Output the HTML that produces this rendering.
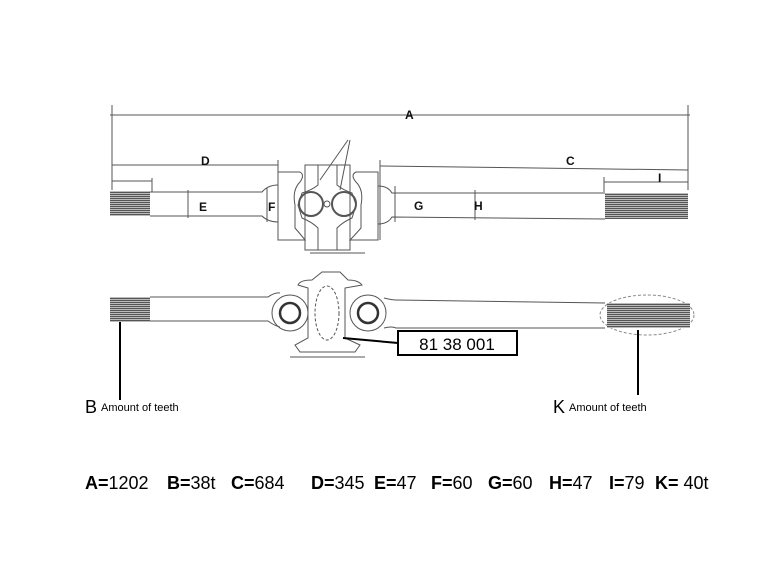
<!DOCTYPE html>
<html><head><meta charset="utf-8"><style>
html,body{margin:0;padding:0;background:#fff;}
svg{display:block;}
</style></head><body>
<svg width="770" height="578" viewBox="0 0 770 578" xmlns="http://www.w3.org/2000/svg" font-family="Liberation Sans, Arial, sans-serif">
<defs>
<pattern id="spl" width="4" height="2" patternUnits="userSpaceOnUse">
<rect width="4" height="2" fill="#bbb"/><rect width="4" height="1" fill="#555"/>
</pattern>
</defs>
<rect width="770" height="578" fill="#fff"/>
<g stroke="#555" stroke-width="1" fill="none">
<!-- dimension lines -->
<line x1="110" y1="115" x2="690" y2="115"/>
<line x1="112" y1="105" x2="112" y2="190"/>
<line x1="688" y1="105" x2="688" y2="190"/>
<line x1="112" y1="165" x2="278" y2="165"/>
<line x1="278" y1="160" x2="278" y2="185"/>
<line x1="380" y1="166" x2="688" y2="170"/>
<line x1="380" y1="160" x2="380" y2="240"/>
<line x1="604" y1="182" x2="688" y2="182"/>
<line x1="604" y1="177" x2="604" y2="192"/>
<line x1="112" y1="181" x2="152" y2="181"/>
<line x1="152" y1="178" x2="152" y2="192"/>
<line x1="188" y1="190" x2="188" y2="218"/>
<line x1="267" y1="188" x2="267" y2="222"/>
<line x1="395" y1="186" x2="395" y2="222"/>
<line x1="475" y1="190" x2="475" y2="220"/>
<line x1="305" y1="250" x2="345" y2="250"/>
<line x1="310" y1="253" x2="365" y2="253"/>
<line x1="320" y1="180" x2="348" y2="140"/>
<line x1="340" y1="190" x2="350" y2="140"/>
<!-- top shafts -->
<path d="M150 192 L262 192 Q268 185 278 185 M150 216 L262 216 Q268 222 278 222"/>
<path d="M378 186 Q388 186 392 193 L605 193 M378 224 Q388 224 392 217 L605 219"/>
<!-- top joint -->
<path d="M278 172 L300 172 Q305 175 300 182 Q292 190 295 205 L295 228 Q302 236 305 240 L278 240 Z"/>
<path d="M378 172 L356 172 Q350 175 356 182 Q364 190 361 205 L361 228 Q354 236 350 240 L378 240 Z"/>
<path d="M305 165 L318 165 L318 185 Q312 190 302 193 L298 205 L302 218 Q312 222 318 228 L318 250 L305 250 Z"/>
<path d="M350 165 L337 165 L337 185 Q343 190 352 193 L356 205 L352 218 Q343 222 337 228 L337 250 L350 250 Z"/>
<line x1="318" y1="165" x2="337" y2="165"/>
<circle cx="311" cy="204" r="12" stroke-width="2"/>
<circle cx="344" cy="204" r="12" stroke-width="2"/>
<circle cx="327" cy="204" r="3"/>
<!-- bottom shafts -->
<path d="M150 297 L268 297 Q275 292 280 293 M150 321 L268 321 Q275 326 280 327"/>
<circle cx="290" cy="313" r="18"/>
<circle cx="290" cy="313" r="10" stroke-width="2.5" stroke="#333"/>
<circle cx="368" cy="313" r="18"/>
<circle cx="368" cy="313" r="10" stroke-width="2.5" stroke="#333"/>
<path d="M384 298 Q392 300 396 300 L605 303 M384 328 Q392 326 396 328 L605 328"/>
<path d="M298 285 Q300 280 312 280 L322 272 L340 272 L348 280 Q358 280 362 285 L345 288 L345 338 L360 345 L355 352 L300 352 L295 345 L308 338 L308 288 Z"/>
<ellipse cx="327" cy="313" rx="12" ry="27" stroke-dasharray="3,2"/>
<ellipse cx="647" cy="315" rx="47" ry="20" stroke-dasharray="3,2" stroke="#888"/>
<line x1="290" y1="357" x2="365" y2="357"/>
</g>
<!-- splines -->
<rect x="110" y="191" width="40" height="25" fill="url(#spl)"/>
<rect x="605" y="193" width="83" height="26" fill="url(#spl)"/>
<rect x="110" y="297" width="40" height="25" fill="url(#spl)"/>
<rect x="607" y="303" width="83" height="25" fill="url(#spl)"/>
<!-- leaders -->
<g stroke="#000" stroke-width="2">
<line x1="120" y1="322" x2="120" y2="400"/>
<line x1="638" y1="330" x2="638" y2="395"/>
<line x1="343" y1="338" x2="398" y2="343"/>
</g>
<rect x="398" y="331" width="119" height="24" fill="#fff" stroke="#000" stroke-width="2"/>
<text x="457" y="350" font-size="17" text-anchor="middle">81 38 001</text>
<!-- dimension labels -->
<g font-weight="bold" font-size="12" fill="#111">
<text x="405" y="119">A</text>
<text x="201" y="165">D</text>
<text x="566" y="165">C</text>
<text x="658" y="182">I</text>
<text x="199" y="211">E</text>
<text x="268" y="211">F</text>
<text x="414" y="210">G</text>
<text x="474" y="210">H</text>
</g>
<text x="85" y="413" font-size="18">B</text>
<text x="101" y="411" font-size="11">Amount of teeth</text>
<text x="553" y="413" font-size="18">K</text>
<text x="569" y="411" font-size="11">Amount of teeth</text>
<text x="85" y="489" font-size="18" fill="#000"><tspan font-weight="bold">A=</tspan>1202<tspan x="167" font-weight="bold">B=</tspan>38t<tspan x="231" font-weight="bold">C=</tspan>684<tspan x="311" font-weight="bold">D=</tspan>345<tspan x="374" font-weight="bold">E=</tspan>47<tspan x="431" font-weight="bold">F=</tspan>60<tspan x="488" font-weight="bold">G=</tspan>60<tspan x="549" font-weight="bold">H=</tspan>47<tspan x="609" font-weight="bold">I=</tspan>79<tspan x="655" font-weight="bold">K=</tspan> 40t</text>
</svg>
</body></html>
